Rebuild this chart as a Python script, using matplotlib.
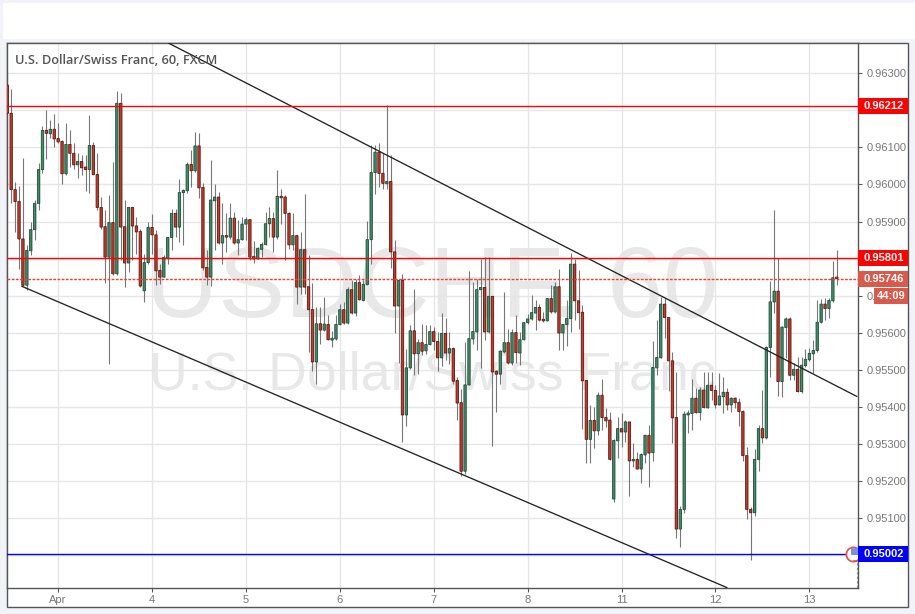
#!/usr/bin/env python3
import sys
import matplotlib
matplotlib.use('Agg')
import matplotlib.pyplot as plt
from matplotlib.patches import Rectangle

# hourly candles, prices in 1e-5 of a franc
opens = [
    96268, 96192, 95986, 95954, 95853, 95728, 95821, 95878, 95949, 96040,
    96146, 96137, 96149, 96124, 96116, 96029, 96108, 96084, 96053, 96062,
    96047, 96040, 96105, 96027, 95938, 95886, 95804, 95897, 95759, 96219,
    95886, 95788, 95938, 95888, 95873, 95713, 95789, 95884, 95864, 95768,
    95750, 95800, 95857, 95922, 95885, 95978, 95983, 96054, 96037, 96104,
    95992, 95776, 95750, 95956, 95966, 95842, 95862, 95858, 95909, 95842,
    95851, 95893, 95905, 95806, 95799, 95825, 95838, 95894, 95908, 95858,
    95968, 95966, 95922, 95837, 95862, 95723, 95824, 95724, 95662, 95521,
    95624, 95607, 95622, 95580, 95583, 95622, 95662, 95626, 95716, 95653,
    95735, 95687, 95730, 95851, 96032, 96087, 96030, 96002, 96008, 95818,
    95672, 95741, 95378, 95505, 95605, 95543, 95573, 95551, 95568, 95603,
    95576, 95532, 95598, 95545, 95557, 95471, 95411, 95226, 95459, 95583,
    95602, 95716, 95722, 95602, 95698, 95496, 95488, 95548, 95573, 95518,
    95600, 95545, 95581, 95627, 95637, 95653, 95668, 95636, 95632, 95692,
    95656, 95724, 95599, 95622, 95638, 95785, 95686, 95655, 95471, 95312,
    95363, 95335, 95431, 95371, 95364, 95151, 95308, 95341, 95332, 95359,
    95254, 95258, 95232, 95270, 95323, 95276, 95505, 95532, 95677, 95641,
    95524, 95371, 95070, 95123, 95378, 95382, 95423, 95384, 95445, 95397,
    95458, 95444, 95405, 95427, 95439, 95405, 95423, 95412, 95387, 95268,
    95123, 95114, 95258, 95341, 95316, 95560, 95683, 95712, 95468, 95614,
    95637, 95485, 95501, 95441, 95511, 95527, 95543, 95552, 95628, 95677,
    95665, 95686, 95750,
]
closes = [
    96192, 95986, 95954, 95853, 95728, 95822, 95878, 95949, 96040, 96146,
    96138, 96149, 96123, 96115, 96029, 96108, 96084, 96053, 96062, 96045,
    96040, 96105, 96027, 95938, 95885, 95804, 95897, 95759, 96219, 95885,
    95788, 95938, 95888, 95872, 95726, 95789, 95884, 95864, 95767, 95750,
    95803, 95857, 95922, 95885, 95978, 95984, 96054, 96037, 96104, 95991,
    95775, 95750, 95958, 95966, 95842, 95862, 95858, 95909, 95842, 95851,
    95893, 95905, 95804, 95799, 95827, 95838, 95894, 95908, 95858, 95968,
    95964, 95922, 95837, 95862, 95723, 95824, 95723, 95662, 95521, 95624,
    95607, 95623, 95581, 95585, 95622, 95662, 95626, 95716, 95653, 95735,
    95689, 95730, 95851, 96032, 96087, 96030, 96003, 96008, 95818, 95672,
    95741, 95378, 95505, 95605, 95543, 95573, 95550, 95568, 95603, 95576,
    95532, 95598, 95545, 95557, 95469, 95410, 95226, 95459, 95584, 95603,
    95716, 95722, 95602, 95698, 95494, 95488, 95550, 95573, 95518, 95600,
    95546, 95581, 95627, 95637, 95654, 95668, 95634, 95632, 95692, 95656,
    95724, 95599, 95622, 95638, 95785, 95686, 95654, 95470, 95312, 95363,
    95335, 95431, 95371, 95362, 95258, 95309, 95341, 95332, 95359, 95254,
    95258, 95232, 95271, 95323, 95275, 95506, 95533, 95677, 95641, 95524,
    95370, 95070, 95123, 95380, 95383, 95423, 95384, 95445, 95398, 95458,
    95444, 95405, 95429, 95439, 95405, 95423, 95411, 95387, 95268, 95123,
    95114, 95258, 95341, 95316, 95560, 95683, 95712, 95468, 95615, 95637,
    95485, 95501, 95441, 95512, 95528, 95544, 95552, 95628, 95677, 95665,
    95687, 95748, 95746,
]
highs = [
    96303, 96259, 96007, 95996, 96072, 95836, 95899, 95958, 96057, 96158,
    96201, 96174, 96190, 96165, 96120, 96165, 96147, 96111, 96084, 96079,
    96079, 96187, 96114, 96086, 95967, 95932, 95971, 96061, 96252, 96248,
    95958, 95940, 95938, 95913, 95881, 95813, 95899, 95920, 95876, 95786,
    95809, 95858, 95935, 95935, 96016, 95989, 96061, 96093, 96142, 96138,
    96003, 95822, 96066, 96001, 95980, 95949, 95922, 95949, 95926, 95904,
    95913, 95913, 95908, 95847, 95831, 95845, 95926, 95940, 95926, 96039,
    95989, 95971, 95926, 95922, 95863, 95872, 95974, 95809, 95735, 95669,
    95668, 95695, 95647, 95605, 95647, 95678, 95683, 95723, 95741, 95746,
    95755, 95741, 95901, 96106, 96106, 96111, 96086, 96214, 96079, 95851,
    95746, 95758, 95557, 95620, 95717, 95584, 95624, 95620, 95622, 95614,
    95602, 95654, 95640, 95603, 95560, 95480, 95449, 95575, 95766, 95737,
    95746, 95800, 95803, 95803, 95699, 95498, 95552, 95710, 95611, 95611,
    95647, 95602, 95629, 95650, 95701, 95687, 95678, 95656, 95692, 95728,
    95737, 95773, 95622, 95687, 95816, 95800, 95770, 95675, 95472, 95405,
    95400, 95441, 95474, 95396, 95387, 95314, 95373, 95382, 95364, 95359,
    95301, 95278, 95274, 95325, 95350, 95578, 95634, 95697, 95693, 95643,
    95549, 95495, 95132, 95388, 95391, 95475, 95450, 95454, 95495, 95495,
    95495, 95459, 95492, 95481, 95450, 95427, 95427, 95423, 95391, 95292,
    95130, 95287, 95350, 95445, 95564, 95740, 95932, 95801, 95618, 95643,
    95643, 95517, 95533, 95533, 95556, 95558, 95580, 95688, 95690, 95693,
    95693, 95794, 95823,
]
lows = [
    96085, 95949, 95872, 95773, 95726, 95714, 95809, 95849, 95931, 96030,
    96069, 96126, 96102, 96111, 96001, 96025, 96048, 96043, 96018, 96025,
    95983, 95977, 96025, 95931, 95881, 95734, 95516, 95755, 95755, 95795,
    95722, 95764, 95795, 95813, 95724, 95683, 95786, 95813, 95728, 95732,
    95749, 95786, 95822, 95858, 95845, 95836, 95976, 95994, 96034, 95964,
    95768, 95728, 95726, 95822, 95840, 95785, 95818, 95854, 95840, 95809,
    95849, 95849, 95795, 95788, 95798, 95804, 95836, 95858, 95818, 95854,
    95894, 95795, 95827, 95822, 95678, 95704, 95704, 95548, 95496, 95462,
    95570, 95605, 95579, 95561, 95581, 95620, 95624, 95624, 95651, 95644,
    95687, 95686, 95728, 95785, 95974, 95994, 95987, 95987, 95775, 95599,
    95518, 95305, 95348, 95503, 95487, 95489, 95539, 95543, 95566, 95552,
    95496, 95509, 95525, 95516, 95462, 95363, 95213, 95219, 95458, 95570,
    95552, 95505, 95579, 95600, 95294, 95386, 95462, 95546, 95516, 95514,
    95518, 95514, 95579, 95624, 95633, 95608, 95632, 95629, 95631, 95653,
    95654, 95552, 95552, 95564, 95602, 95633, 95611, 95340, 95249, 95249,
    95290, 95325, 95337, 95346, 95256, 95143, 95263, 95292, 95305, 95160,
    95238, 95231, 95193, 95247, 95184, 95253, 95486, 95531, 95585, 95443,
    95303, 95046, 95022, 95112, 95328, 95337, 95382, 95364, 95396, 95396,
    95418, 95396, 95405, 95382, 95391, 95387, 95396, 95348, 95254, 95098,
    94987, 95105, 95227, 95301, 95314, 95479, 95652, 95429, 95425, 95531,
    95472, 95472, 95440, 95438, 95508, 95524, 95490, 95549, 95625, 95634,
    95639, 95684, 95729,
]

# day labels and the candle each one sits under
day_labels = ['Apr', '4', '5', '6', '7', '8', '11', '12', '13']
day_index = [13, 37, 61, 85, 109, 133, 157, 181, 205]

price_ticks = [0.950, 0.951, 0.952, 0.953, 0.954, 0.955, 0.956, 0.957,
               0.958, 0.959, 0.960, 0.961, 0.962, 0.963]

# levels drawn on the chart
resistance_high = 0.96212
resistance_low = 0.95801
support = 0.95002
last_price = 0.95746
countdown = '44:09'

# channel lines: (candle index, price) at both ends
upper_channel_x = [41.3, 217.1]
upper_channel_y = [0.96381, 0.95428]
lower_channel_x = [3.75, 183.9]
lower_channel_y = [0.95725, 0.94912]

W, H = 915, 614
GREEN = '#3f8f68'
GREEN_EDGE = '#24513d'
RED = '#c93a2b'
RED_EDGE = '#611d14'
BORDER = '#555555'
TICK_TEXT = '#777777'
GRID = '#e6e6e6'
LAST = '#d9594a'


def px_rect(fig, x0, y0, x1, y1, **kw):
    # rectangle in figure pixels, y counted from the top like the screenshot
    r = Rectangle((x0 / W, 1 - y1 / H), (x1 - x0) / W, (y1 - y0) / H,
                  transform=fig.transFigure, **kw)
    fig.add_artist(r)
    return r


def price_tag(fig, ax, price, text, color, x0=858.3):
    # tag sits on the price axis, so get its pixel row from the axes
    y = H - ax.transData.transform((0, price))[1]
    px_rect(fig, x0, y - 8, 908.3, y + 8, facecolor=color, edgecolor='none', zorder=2)
    fig.text((x0 + 908.3) / 2 / W, 1 - y / H, text, color='white', fontsize=8,
             fontweight='bold', ha='center', va='center', zorder=3)


def main():
    plt.rcParams['font.family'] = ['Liberation Sans', 'DejaVu Sans']
    fig = plt.figure(figsize=(W / 100, H / 100), dpi=100, facecolor='#f1f3f8')

    px_rect(fig, 3, 3, 915, 39, facecolor='white', edgecolor='none', zorder=-2)
    px_rect(fig, 6.5, 43.3, 908.3, 606.7, facecolor='white', edgecolor=BORDER,
            linewidth=1.0, zorder=-1)

    ax = fig.add_axes([6.5 / W, 1 - 588.3 / H, 851.8 / W, 545 / H])
    ax.set_xlim(-0.2, 217.5)
    ax.set_ylim(0.9491, 0.96381)

    # watermark
    ax.text(0.5, 0.545, 'USDCHF, 60', transform=ax.transAxes, fontsize=72,
            color='#e8e8e8', ha='center', va='center', zorder=0.5)
    ax.text(0.5, 0.39, 'U.S. Dollar/Swiss Franc', transform=ax.transAxes, fontsize=38.6,
            color='#e8e8e8', ha='center', va='center', zorder=0.5)

    ax.set_axisbelow(True)
    ax.grid(True, color=GRID, linewidth=1.0, zorder=0.6)

    # candles: wick first, then the body over it
    # no snapping here, at 4 px a candle it makes the widths uneven
    x = list(range(len(opens)))
    for i in x:
        o = opens[i] / 1e5
        c = closes[i] / 1e5
        up = c >= o
        ax.vlines(i, lows[i] / 1e5, highs[i] / 1e5, color='#777777', linewidth=0.8, zorder=2)
        ax.bar(i, abs(c - o), bottom=min(o, c), width=0.6,
               color=GREEN if up else RED, edgecolor=GREEN_EDGE if up else RED_EDGE,
               linewidth=0.65, zorder=3, snap=False)

    # channel
    ax.plot(upper_channel_x, upper_channel_y, color='#222222', linewidth=0.95, zorder=4)
    ax.plot(lower_channel_x, lower_channel_y, color='#222222', linewidth=0.95, zorder=4)

    # horizontal levels
    ax.axhline(resistance_high, color='#ff0000', linewidth=1.0, zorder=4)
    ax.axhline(resistance_low, color='#ff0000', linewidth=1.0, zorder=4)
    ax.axhline(support, color='#0000ff', linewidth=1.0, zorder=4)
    ax.axhline(last_price, color='#f0402c', linewidth=1.0, linestyle=(0, (2, 1)), zorder=4)

    # event marker on the right edge, cut by the axis
    ax.plot([217.1, 217.1], [support, 0.9491], color='#888888', linewidth=0.8,
            linestyle=(0, (2, 2)), zorder=4)
    ax.scatter([216.1], [support], s=105, facecolor='white', edgecolor='#e05a4a',
               linewidth=1.3, zorder=5)
    ax.scatter([216.7], [support + 0.00007], s=28, marker='s', facecolor='#7b8fe0',
               edgecolor='none', zorder=6)
    ax.plot([216.4, 217.5], [support - 0.00017, support - 0.00017], color='#e05a4a',
            linewidth=1.2, zorder=6)

    ax.set_xticks(day_index)
    ax.set_xticklabels(day_labels)
    ax.set_yticks(price_ticks)
    ax.set_yticklabels(['%.5f' % p for p in price_ticks])
    ax.yaxis.tick_right()
    ax.tick_params(axis='y', length=3, width=0.75, color=BORDER, labelcolor=TICK_TEXT,
                   labelsize=8, pad=3)
    ax.tick_params(axis='x', length=3, width=0.75, color=BORDER, labelcolor=TICK_TEXT,
                   labelsize=8, pad=1.5)
    for s in ax.spines.values():
        s.set_color(BORDER)
        s.set_linewidth(1.0)

    fig.text(15 / W, 1 - 60 / H, 'U.S. Dollar/Swiss Franc, 60, FXCM', color='#555555',
             fontsize=9.15, fontweight='semibold', family=['Open Sans', 'DejaVu Sans'],
             va='center', ha='left', zorder=3)

    # price tags go over the tick labels
    price_tag(fig, ax, resistance_high, '0.96212', '#ff0000')
    price_tag(fig, ax, resistance_low, '0.95801', '#ff0000')
    price_tag(fig, ax, last_price, '0.95746', LAST)
    price_tag(fig, ax, last_price - 0.00046, countdown, LAST, x0=874)
    price_tag(fig, ax, support, '0.95002', '#0000ff')

    fig.savefig('out.png', dpi=100, facecolor=fig.get_facecolor())


if __name__ == '__main__':
    sys.exit(main())
